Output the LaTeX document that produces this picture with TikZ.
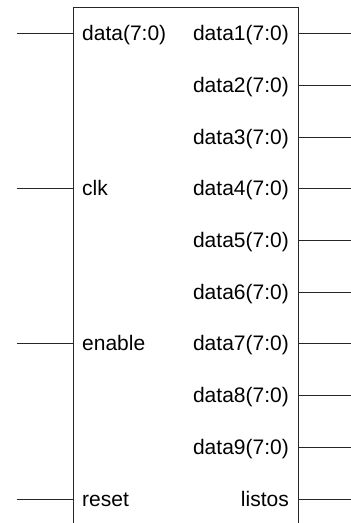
\documentclass[tikz,border=0pt]{standalone}
\usepackage{fontspec}
\setmainfont{Liberation Sans}
\begin{document}
\begin{tikzpicture}[x=1pt,y=1pt,
  wire/.style={draw=black!85, line width=0.8pt},
  block/.style={draw=black!85, line width=0.8pt, inner sep=0pt},
  pin/.style={font=\fontsize{21}{25}\selectfont, inner sep=0pt, text=black}]
\useasboundingbox (0,0) rectangle (351,-523);
\clip (0,0) rectangle (351,-523);
% component body (runs past the lower edge)
\node[block, anchor=north west, minimum width=225pt, minimum height=530pt] (blk) at (73,-7) {};
% inputs
\foreach \nm/\lb/\y in {din/data(7:0)/33, clk/clk/188, en/enable/343, rst/reset/499}{
  \coordinate (\nm-in) at (73,-\y);
  \coordinate (\nm-end) at (17,-\y);
  \draw[wire] (\nm-end) -- (\nm-in);
  \node[pin, anchor=base west] (\nm-lbl) at (82,-\y-7.5) {\lb};
}
% outputs
\foreach \i/\y in {1/33,2/85,3/137,4/188,5/240,6/292,7/343,8/395,9/447}{
  \coordinate (o\i-out) at (298,-\y);
  \coordinate (o\i-end) at (351,-\y);
  \draw[wire] (o\i-out) -- (o\i-end);
  \node[pin, anchor=base east] (o\i-lbl) at (289,-\y-7.5) {data\i(7:0)};
}
\coordinate (ls-out) at (298,-499);
\coordinate (ls-end) at (351,-499);
\draw[wire] (ls-out) -- (ls-end);
\node[pin, anchor=base east] (ls-lbl) at (289,-506.5) {listos};
\end{tikzpicture}
\end{document}
